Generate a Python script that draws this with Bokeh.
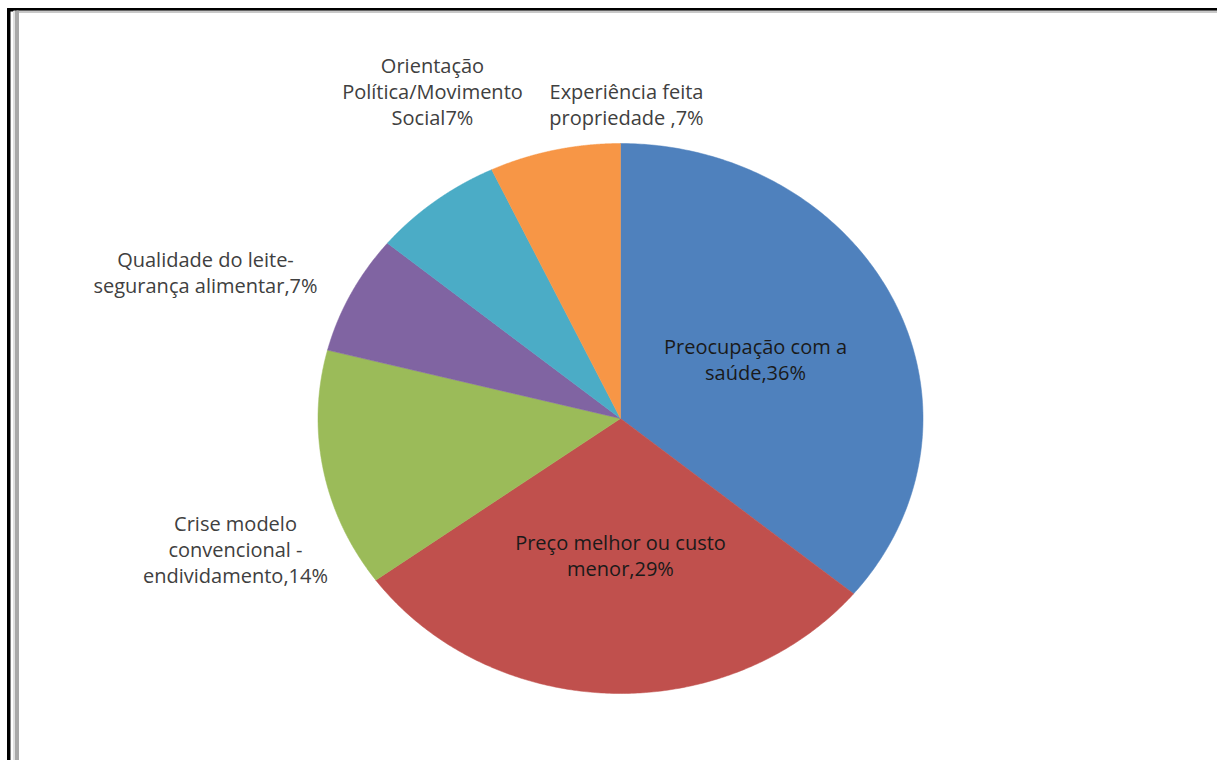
import numpy as np
from bokeh.plotting import figure
from bokeh.models import Range1d, ColumnDataSource
from bokeh.core.properties import value
from bokeh.embed import file_html
from bokeh.resources import INLINE

# ---- data ----
categories = [
    "Preocupação com a\nsaúde,36%",
    "Preço melhor ou custo\nmenor,29%",
    "Crise modelo\nconvencional -\nendividamento,14%",
    "Qualidade do leite-\nsegurança alimentar,7%",
    "Orientação\nPolítica/Movimento\nSocial7%",
    "Experiência feita\npropriedade ,7%",
]
shares = [36, 29, 14, 7, 7, 7]
colors = ["#4F81BD", "#C0504D", "#9BBB59", "#8064A2", "#4BACC6", "#F79646"]

# ---- layout (pixel-like data space, y downward) ----
W, H = 1217, 760
cx, cy, rx, ry = 620, 418, 302.5, 275
label_x = [755, 620, 235, 205, 432, 626]
label_y = [359, 555, 549, 272, 91, 104]
label_col = ["#1a1a1a", "#1a1a1a", "#404040", "#404040", "#404040", "#404040"]

p = figure(width=W, height=H, output_backend="svg", toolbar_location=None,
           x_range=Range1d(0, W), y_range=Range1d(H, 0), min_border=0)
p.axis.visible = False
p.grid.visible = False
p.outline_line_color = None
p.background_fill_color = "white"
p.border_fill_color = "white"

# frame decoration
p.quad(left=[7], right=[W], top=[8], bottom=[10.5], color="black")
p.quad(left=[7], right=[9.5], top=[8], bottom=[H], color="black")
p.quad(left=[16], right=[W], top=[10.5], bottom=[12], color="#c8c8c8")
p.quad(left=[13], right=[15], top=[10.5], bottom=[H], color="#e0e0e0")
p.quad(left=[15], right=[18], top=[10.5], bottom=[H], color="#a8a8a8")

# pie slices (elliptical), starting at top, clockwise
total = float(sum(shares))
xs, ys = [], []
start = np.pi / 2
for s in shares:
    sweep = 2 * np.pi * s / total
    t = np.linspace(start, start - sweep, 200)
    xs.append([cx] + list(cx + rx * np.cos(t)) + [cx])
    ys.append([cy] + list(cy - ry * np.sin(t)) + [cy])
    start -= sweep
src = ColumnDataSource(dict(xs=xs, ys=ys, color=colors))
p.patches("xs", "ys", source=src, fill_color="color", line_color="color", line_width=0.5)

lsrc = ColumnDataSource(dict(x=label_x, y=label_y, text=categories, color=label_col))
p.text("x", "y", text="text", source=lsrc, text_color="color",
       text_font=value("Open Sans"), text_font_size="20px",
       text_align="center", text_baseline="middle", text_line_height=0.97)

open("out.html", "w").write(file_html(p, INLINE))
